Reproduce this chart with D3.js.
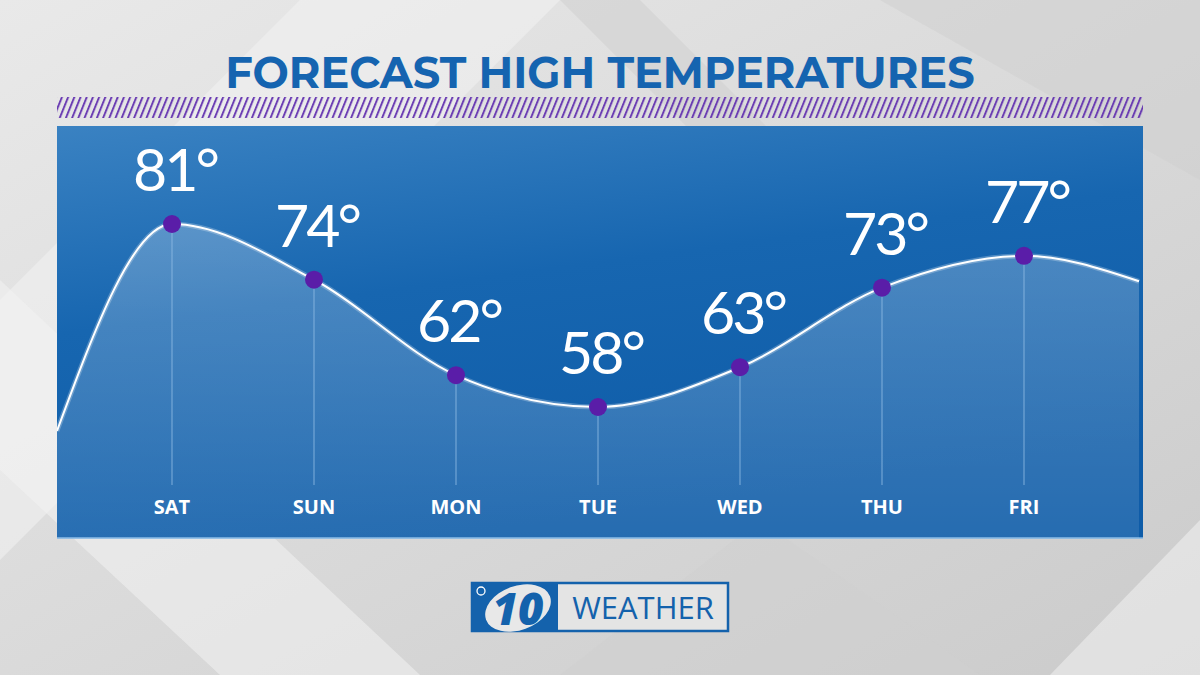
<!DOCTYPE html>
<meta charset="utf-8">
<style>
  body { margin: 0; background: #dcdcdc; }
  svg { display: block; }
</style>
<body>
<script src="https://cdn.jsdelivr.net/npm/d3@7"></script>
<script>

// forecast data
var days  = ["SAT", "SUN", "MON", "TUE", "WED", "THU", "FRI"];
var highs = [81, 74, 62, 58, 63, 73, 77];
// the curve runs off both edges of the panel; values where it leaves
var leadIn  = { pos: -0.81, temp: 55 };
var leadOut = { pos: 6.81, temp: 73.8 };

var W = 1200, H = 675;
var panel = { left: 57, right: 1143, top: 126, bottom: 538 };

var svg = d3.select("body").append("svg")
    .attr("width", W)
    .attr("height", H);

var defs = svg.append("defs");

// background gradient
var bg = defs.append("linearGradient").attr("id", "bg")
    .attr("x1", 0).attr("y1", 0).attr("x2", 1).attr("y2", 1);
bg.append("stop").attr("offset", "0%").attr("stop-color", "#e9e9e9");
bg.append("stop").attr("offset", "100%").attr("stop-color", "#cbcbcb");

// panel gradient
var pg = defs.append("linearGradient").attr("id", "panelGrad")
    .attr("x1", 0).attr("y1", 0).attr("x2", 0.35).attr("y2", 1);
pg.append("stop").attr("offset", "0%").attr("stop-color", "#3a82c2");
pg.append("stop").attr("offset", "45%").attr("stop-color", "#1766b0");
pg.append("stop").attr("offset", "100%").attr("stop-color", "#0e5ca8");

// area gradient
var ag = defs.append("linearGradient").attr("id", "areaGrad")
    .attr("x1", 0).attr("y1", 0).attr("x2", 0).attr("y2", 1);
ag.append("stop").attr("offset", "0%").attr("stop-color", "#ffffff").attr("stop-opacity", 0.24);
ag.append("stop").attr("offset", "100%").attr("stop-color", "#ffffff").attr("stop-opacity", 0.1);

// hatch pattern
var hp = defs.append("pattern").attr("id", "hatch")
    .attr("patternUnits", "userSpaceOnUse")
    .attr("width", 6.2).attr("height", 22)
    .attr("patternTransform", "skewX(-22)");
hp.append("line")
    .attr("x1", 2).attr("y1", 0).attr("x2", 2).attr("y2", 22)
    .attr("stroke", "#6433b0").attr("stroke-width", 2);

defs.append("clipPath").attr("id", "panelClip")
  .append("rect")
    .attr("x", panel.left).attr("y", panel.top)
    .attr("width", panel.right - panel.left)
    .attr("height", panel.bottom - panel.top);

// background with soft diagonal facets
svg.append("rect").attr("width", W).attr("height", H).attr("fill", "url(#bg)");
var facets = [
  [[0, 300], [300, 0], [560, 0], [0, 560]],
  [[560, 0], [640, 0], [900, 260], [820, 260]],
  [[0, 470], [220, 675], [420, 675], [0, 280]],
  [[880, 0], [1200, 0], [1200, 180]],
  [[1050, 675], [1200, 520], [1200, 675]],
  [[560, 675], [760, 520], [980, 675]]
];
svg.selectAll("polygon.facet")
  .data(facets)
  .enter().append("polygon")
    .attr("class", "facet")
    .attr("points", function(d) { return d.join(" "); })
    .attr("fill", function(d, i) { return i % 2 ? "#cfcfcf" : "#f2f2f2"; })
    .attr("opacity", 0.55);

// title
svg.append("text")
    .attr("x", 600).attr("y", 88)
    .attr("text-anchor", "middle")
    .attr("font-family", "Montserrat, 'Open Sans', sans-serif")
    .attr("font-weight", 700)
    .attr("font-size", 43)
    .attr("fill", "#1564b0")
    .text("FORECAST HIGH TEMPERATURES");

// hatch stripe
svg.append("rect")
    .attr("x", panel.left).attr("y", 97)
    .attr("width", panel.right - panel.left).attr("height", 21)
    .attr("fill", "url(#hatch)");

// panel
svg.append("rect")
    .attr("x", panel.left).attr("y", panel.top)
    .attr("width", panel.right - panel.left)
    .attr("height", panel.bottom - panel.top)
    .attr("fill", "url(#panelGrad)");
svg.append("line")
    .attr("x1", panel.left).attr("x2", panel.right)
    .attr("y1", panel.bottom).attr("y2", panel.bottom)
    .attr("stroke", "#7fb6e6").attr("stroke-width", 1.5);

// scales
var x = d3.scaleLinear().domain([0, 6]).range([172, 1024]);
var y = d3.scaleLinear().domain([58, 81]).range([407, 224]);

var pts = [leadIn].concat(highs.map(function(v, i) { return { pos: i, temp: v }; }), [leadOut]);

var g = svg.append("g").attr("clip-path", "url(#panelClip)");

var area = d3.area()
    .x(function(d) { return x(d.pos); })
    .y0(panel.bottom)
    .y1(function(d) { return y(d.temp); })
    .curve(d3.curveMonotoneX);

var line = d3.line()
    .x(function(d) { return x(d.pos); })
    .y(function(d) { return y(d.temp); })
    .curve(d3.curveMonotoneX);

g.append("path").datum(pts)
    .attr("d", area)
    .attr("fill", "url(#areaGrad)");

// drop lines
g.selectAll("line.drop")
  .data(highs)
  .enter().append("line")
    .attr("class", "drop")
    .attr("x1", function(d, i) { return x(i); })
    .attr("x2", function(d, i) { return x(i); })
    .attr("y1", function(d) { return y(d); })
    .attr("y2", 485)
    .attr("stroke", "#8fbbe3")
    .attr("stroke-opacity", 0.7)
    .attr("stroke-width", 1.2);

g.append("path").datum(pts)
    .attr("d", line)
    .attr("fill", "none")
    .attr("stroke", "#ffffff")
    .attr("stroke-opacity", 0.25)
    .attr("stroke-width", 5);
g.append("path").datum(pts)
    .attr("d", line)
    .attr("fill", "none")
    .attr("stroke", "#ffffff")
    .attr("stroke-width", 2);

// dots
svg.selectAll("circle.dot")
  .data(highs)
  .enter().append("circle")
    .attr("class", "dot")
    .attr("cx", function(d, i) { return x(i); })
    .attr("cy", function(d) { return y(d); })
    .attr("r", 9)
    .attr("fill", "#5a1da8");

// temperature labels
svg.selectAll("text.temp")
  .data(highs)
  .enter().append("text")
    .attr("class", "temp")
    .attr("x", function(d, i) { return x(i) + 3; })
    .attr("y", function(d) { return y(d) - 33; })
    .attr("text-anchor", "middle")
    .attr("font-family", "Lato, 'Open Sans', sans-serif")
    .attr("font-weight", 400)
    .attr("font-size", 59)
    .attr("letter-spacing", -3)
    .attr("fill", "#ffffff")
    .text(function(d) { return d + "°"; });

// day labels
svg.selectAll("text.day")
  .data(days)
  .enter().append("text")
    .attr("class", "day")
    .attr("x", function(d, i) { return x(i); })
    .attr("y", 514)
    .attr("text-anchor", "middle")
    .attr("font-family", "'Open Sans', sans-serif")
    .attr("font-weight", 700)
    .attr("font-size", 20)
    .attr("fill", "#ffffff")
    .text(function(d) { return d; });

// station logo
var logo = svg.append("g").attr("transform", "translate(472,583)");
logo.append("rect")
    .attr("x", 0).attr("y", 0).attr("width", 256).attr("height", 48)
    .attr("fill", "#e4e4e4").attr("stroke", "#1462ac").attr("stroke-width", 2.5);
logo.append("rect")
    .attr("x", 0).attr("y", 0).attr("width", 86).attr("height", 48)
    .attr("fill", "#1462ac");
logo.append("ellipse")
    .attr("cx", 46).attr("cy", 25).attr("rx", 34).attr("ry", 22)
    .attr("transform", "rotate(-20,46,25)")
    .attr("fill", "#e8e8e8");
logo.append("text")
    .attr("x", 46).attr("y", 42)
    .attr("text-anchor", "middle")
    .attr("font-family", "'Open Sans', sans-serif")
    .attr("font-weight", 800)
    .attr("font-style", "italic")
    .attr("font-size", 44)
    .attr("fill", "#1462ac")
    .text("10");
logo.append("circle")
    .attr("cx", 9).attr("cy", 8).attr("r", 4)
    .attr("fill", "none").attr("stroke", "#ffffff").attr("stroke-width", 1.3);
logo.append("text")
    .attr("x", 171).attr("y", 36)
    .attr("text-anchor", "middle")
    .attr("font-family", "'Open Sans', sans-serif")
    .attr("font-weight", 400)
    .attr("font-size", 31)
    .attr("fill", "#1462ac")
    .text("WEATHER");

</script>
</body>
